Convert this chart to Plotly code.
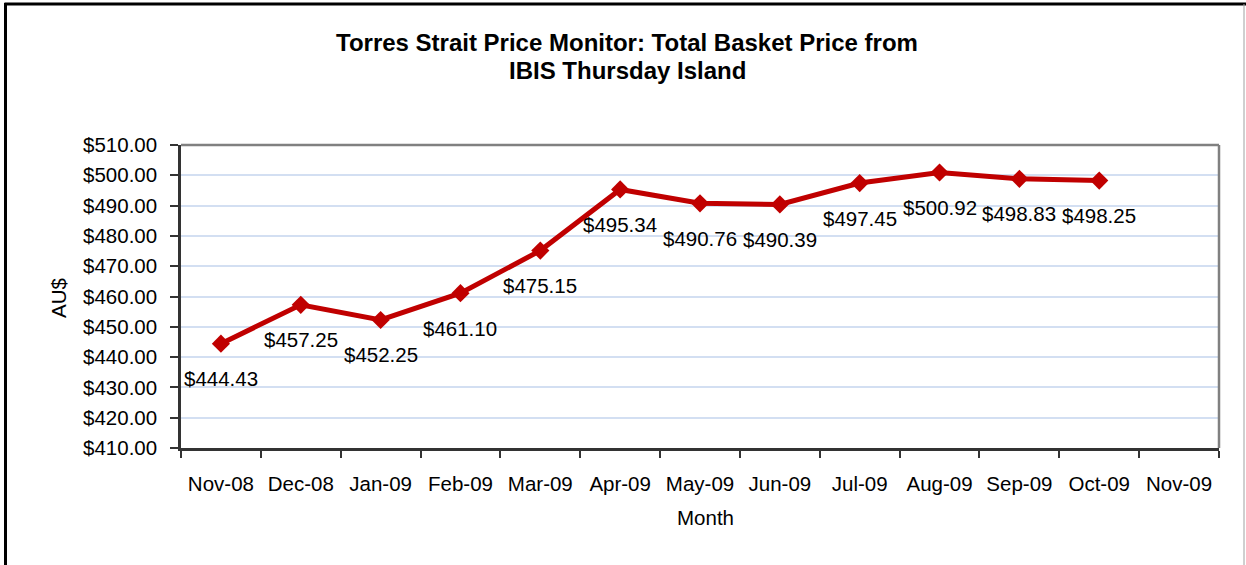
import plotly.graph_objects as go

months = ["Nov-08", "Dec-08", "Jan-09", "Feb-09", "Mar-09", "Apr-09", "May-09",
          "Jun-09", "Jul-09", "Aug-09", "Sep-09", "Oct-09", "Nov-09"]
data_months = months[:12]
prices = [444.43, 457.25, 452.25, 461.10, 475.15, 495.34, 490.76,
          490.39, 497.45, 500.92, 498.83, 498.25]

title_lines = ["Torres Strait Price Monitor: Total Basket Price from", "IBIS Thursday Island"]
FONT = "Liberation Sans, Arial, sans-serif"

W, H = 1246, 565
L, R, T, B = 181, 1219, 145, 448

def px(x):
    return (x - L) / (R - L)

def py(y):
    return (B - y) / (B - T)

fig = go.Figure()
fig.add_trace(go.Scatter(
    x=data_months, y=prices, mode="lines+markers",
    line=dict(color="#c00000", width=5),
    marker=dict(symbol="diamond", size=14, color="#c00000"),
    hoverinfo="x+y", showlegend=False,
))

annotations = []
for m, p in zip(data_months, prices):
    annotations.append(dict(
        x=m, y=p, xref="x", yref="y", text=f"${p:.2f}", showarrow=False,
        yshift=-35, font=dict(family=FONT, size=20.5, color="black"),
    ))
for line, ypix in zip(title_lines, [43, 71]):
    annotations.append(dict(
        x=px(627), y=py(ypix), xref="paper", yref="paper", text=f"<b>{line}</b>",
        showarrow=False, xanchor="center", yanchor="middle",
        font=dict(family=FONT, size=24, color="black")))
annotations.append(dict(
    x=px(58), y=py(298), xref="paper", yref="paper", text="AU$", textangle=-90,
    showarrow=False, font=dict(family=FONT, size=20.5, color="black"),
    xanchor="center", yanchor="middle"))
annotations.append(dict(
    x=px(705), y=py(517), xref="paper", yref="paper", text="Month",
    showarrow=False, font=dict(family=FONT, size=20.5, color="black"),
    xanchor="center", yanchor="middle"))

shapes = [
    dict(type="line", xref="paper", yref="paper", x0=0, x1=1, y0=1, y1=1,
         line=dict(color="#808080", width=2.5)),
    dict(type="line", xref="paper", yref="paper", x0=1, x1=1, y0=0, y1=1,
         line=dict(color="#808080", width=2.5)),
    dict(type="line", xref="paper", yref="paper", x0=px(4.5), x1=px(1246), y0=py(4), y1=py(4),
         line=dict(color="black", width=3)),
    dict(type="line", xref="paper", yref="paper", x0=px(5.5), x1=px(5.5), y0=py(3), y1=py(570),
         line=dict(color="black", width=3)),
    dict(type="line", xref="paper", yref="paper", x0=px(1244), x1=px(1244), y0=py(4), y1=py(570),
         line=dict(color="#a0a0a0", width=1)),
]

fig.update_layout(
    width=W, height=H,
    margin=dict(l=L, r=W - R, t=T, b=H - B),
    paper_bgcolor="white", plot_bgcolor="white",
    font=dict(family=FONT, size=20.5, color="black"),
    annotations=annotations,
    shapes=shapes,
    xaxis=dict(
        type="category", categoryorder="array", categoryarray=months,
        range=[-0.5, 12.5], tickson="boundaries", ticks="outside", ticklen=7,
        tickcolor="#333333", tickwidth=2,
        showline=True, linecolor="#333333", linewidth=2.5,
        showgrid=False, zeroline=False, ticklabelstandoff=16,
        tickfont=dict(family=FONT, size=20.5, color="black"),
    ),
    yaxis=dict(
        range=[410, 510], dtick=10, tick0=410, tickprefix="$", tickformat=".2f",
        ticks="outside", ticklen=8, tickcolor="#333333", tickwidth=2,
        showline=True, linecolor="#333333", linewidth=2.5,
        showgrid=True, gridcolor="#d3dff2", gridwidth=1.5, zeroline=False,
        ticklabelstandoff=9,
        tickfont=dict(family=FONT, size=20.5, color="black"),
    ),
)

fig.write_html(
    "out.html",
    config={"displayModeBar": False},
    post_script="document.body.style.margin='0';document.body.style.overflow='hidden';",
)
